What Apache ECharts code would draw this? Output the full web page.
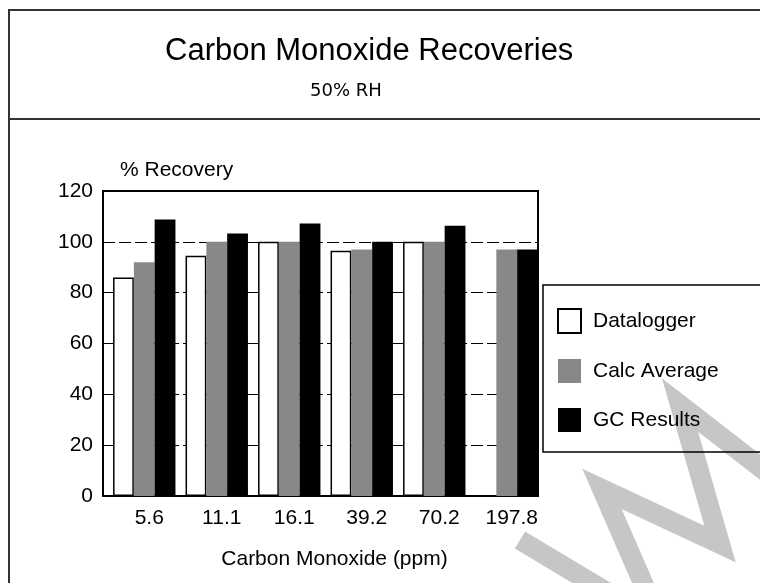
<!DOCTYPE html>
<html>
<head>
<meta charset="utf-8">
<script src="https://cdn.jsdelivr.net/npm/echarts@6/dist/echarts.min.js"></script>
<style>
html, body { margin: 0; padding: 0; background: #fff; }
#chart { width: 760px; height: 583px; }
</style>
</head>
<body>
<div id="chart"></div>
<script>
var categories = ['5.6', '11.1', '16.1', '39.2', '70.2', '197.8'];
var datalogger = [86, 94.5, 100, 96.5, 100, null];
var calcAverage = [92, 100, 100, 97, 100, 97];
var gcResults = [108.8, 103.3, 107.2, 100, 106.3, 97];

var font = 'Liberation Sans, Arial, sans-serif';
var chart = echarts.init(document.getElementById('chart'));

// faint watermark strokes drawn behind everything
var wmStyle = { stroke: '#c6c6c6', lineWidth: 20, fill: null, lineJoin: 'miter', lineCap: 'butt' };

chart.setOption({
    backgroundColor: '#fff',
    textStyle: { fontFamily: font },
    title: [{
        text: 'Carbon Monoxide Recoveries',
        left: 160,
        top: 31,
        textStyle: { fontSize: 31, fontWeight: 'normal', color: '#000', fontFamily: font }
    }, {
        text: '50% RH',
        left: 305,
        top: 77,
        textStyle: { fontSize: 18, fontWeight: 'normal', color: '#000', fontFamily: 'DejaVu Sans, sans-serif' }
    }],
    grid: {
        left: 103, right: 222, top: 191, bottom: 87,
        show: true, borderColor: '#000', borderWidth: 2, backgroundColor: 'transparent'
    },
    legend: {
        data: ['Datalogger', 'Calc Average', 'GC Results'],
        orient: 'vertical',
        left: 557,
        top: 308,
        padding: 0,
        icon: 'rect',
        itemWidth: 23,
        itemHeight: 24,
        itemGap: 25,
        textStyle: { fontSize: 21, color: '#000', padding: [0, 0, 0, 7] }
    },
    xAxis: {
        type: 'category',
        data: categories,
        axisLine: { lineStyle: { color: '#000', width: 1.5 } },
        axisTick: { show: false },
        axisLabel: { color: '#000', fontSize: 21, margin: 12, padding: [0, 0, 0, 20] },
        name: 'Carbon Monoxide (ppm)',
        nameLocation: 'middle',
        nameGap: 53,
        nameTextStyle: { color: '#000', fontSize: 21, padding: [0, 0, 0, 28] }
    },
    yAxis: {
        type: 'value',
        min: 0,
        max: 120,
        interval: 20,
        axisLine: { show: true, lineStyle: { color: '#000', width: 1.5 } },
        axisTick: { show: false },
        axisLabel: { color: '#000', fontSize: 21, margin: 10 },
        splitLine: { show: true, lineStyle: { color: '#000', width: 1, type: [12, 4] } },
        name: '% Recovery',
        nameLocation: 'end',
        nameGap: 10,
        nameTextStyle: { color: '#000', fontSize: 21, align: 'left', padding: [0, 0, 0, 17] }
    },
    series: [{
        // empty spacer so each group sits right in its slot, like the original
        type: 'bar',
        silent: true,
        barWidth: 10,
        barGap: '0%',
        data: categories.map(function () { return null; })
    }, {
        name: 'Datalogger',
        type: 'bar',
        barWidth: 20.8,
        barGap: '0%',
        itemStyle: { color: '#fff', borderColor: '#000', borderWidth: 1.5 },
        data: datalogger
    }, {
        name: 'Calc Average',
        type: 'bar',
        barWidth: 20.8,
        barGap: '0%',
        itemStyle: { color: '#888' },
        data: calcAverage
    }, {
        name: 'GC Results',
        type: 'bar',
        barWidth: 20.8,
        barGap: '0%',
        itemStyle: { color: '#000' },
        data: gcResults
    }],
    graphic: [
        { type: 'polyline', z: -10, shape: { points: [[520, 540], [630, 606]] }, style: wmStyle },
        { type: 'polyline', z: -10, shape: { points: [[653, 606], [602, 489], [720, 544], [680, 405], [800, 498]] }, style: wmStyle },
        { type: 'polyline', z: -10, shape: { points: [[820, 440], [785, 322], [820, 345]] }, style: wmStyle },
        { type: 'rect', z: 10, shape: { x: 543, y: 285, width: 300, height: 167 },
          style: { fill: null, stroke: '#000', lineWidth: 1.5 } },
        { type: 'line', z: 10, shape: { x1: 9, y1: 10, x2: 9, y2: 600 }, style: { stroke: '#333', lineWidth: 2 } },
        { type: 'line', z: 10, shape: { x1: 8, y1: 10, x2: 770, y2: 10 }, style: { stroke: '#333', lineWidth: 2 } },
        { type: 'line', z: 10, shape: { x1: 8, y1: 119, x2: 770, y2: 119 }, style: { stroke: '#333', lineWidth: 2 } }
    ]
});
</script>
</body>
</html>
